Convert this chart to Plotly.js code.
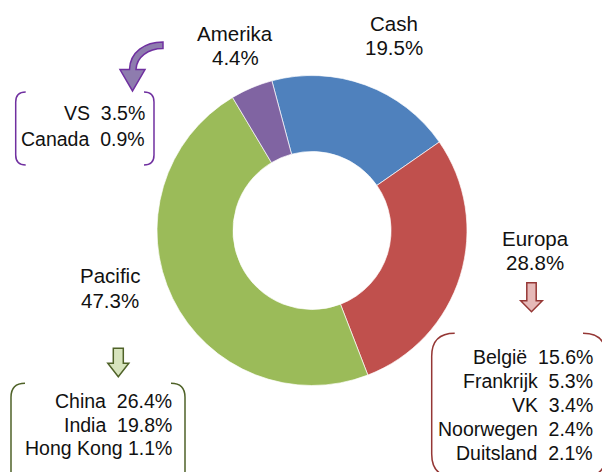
<!DOCTYPE html>
<html>
<head>
<meta charset="utf-8">
<script src="https://cdn.plot.ly/plotly-3.0.1.min.js"></script>
<style>html,body{margin:0;padding:0;background:#fff;}#chart{width:602px;height:472px;}</style>
</head>
<body>
<div id="chart"></div>
<script>
// ---- data ----
const regions = ['Cash', 'Europa', 'Pacific', 'Amerika'];
const shares = [19.5, 28.8, 47.3, 4.4];
const sliceColors = ['#4F81BD', '#C0504D', '#9BBB59', '#8064A2'];

const amerikaNames = ['VS', 'Canada'];
const amerikaValues = [3.5, 0.9];
const pacificNames = ['China', 'India', 'Hong Kong'];
const pacificValues = [26.4, 19.8, 1.1];
const europaNames = ['België', 'Frankrijk', 'VK', 'Noorwegen', 'Duitsland'];
const europaValues = [15.6, 5.3, 3.4, 2.4, 2.1];

// ---- layout helpers ----
const W = 602, H = 472;
const FONT = 'Liberation Sans, Arial, sans-serif';
const TXT = '#111111';
const MID = 0.3465; // (ascent - descent)/2 in em for Liberation Sans
const pct = v => v.toFixed(1) + '%';
const px2x = x => x / W;
const px2y = y => 1 - y / H;

function pathOf(cmds) {
  return cmds.map(c => c[0] + c.slice(1).map(p => px2x(p[0]).toFixed(5) + ',' + px2y(p[1]).toFixed(5)).join(' ')).join(' ');
}

const annotations = [];
function addLine(text, x, baseline, anchor, size) {
  annotations.push({
    xref: 'paper', yref: 'paper', x: px2x(x), y: px2y(baseline - MID * size),
    xanchor: anchor, yanchor: 'middle', showarrow: false, text: text,
    font: {family: FONT, size: size, color: TXT}, borderpad: 0
  });
}

// region labels (name + share)
const labelPos = {
  'Cash':    {x: 394, b: [30.7, 55]},
  'Europa':  {x: 535, b: [245.5, 270]},
  'Pacific': {x: 110, b: [283, 308]},
  'Amerika': {x: 235, b: [40.5, 65]}
};
regions.forEach((r, i) => {
  const p = labelPos[r];
  addLine(r, p.x, p.b[0], 'center', 20.5);
  addLine(pct(shares[i]), p.x, p.b[1], 'center', 20.5);
});

function sep(name) { return name.indexOf(' ') >= 0 ? ' ' : '\u00a0\u00a0'; }
function addList(names, values, right, firstBase, step, size) {
  names.forEach((n, i) => addLine(n + sep(n) + pct(values[i]), right, firstBase + i * step, 'right', size));
}
addList(amerikaNames, amerikaValues, 145.5, 120, 25.5, 19.5);
addList(pacificNames, pacificValues, 172.5, 408, 23.5, 19.5);
addList(europaNames, europaValues, 593.5, 363.3, 24.2, 19.5);

// ---- decorations ----
function bracketPair(l, r, top, bot, rad) {
  const left = [['M', [l + rad, top]], ['Q', [l, top], [l, top + rad]], ['L', [l, bot - rad]], ['Q', [l, bot], [l + rad, bot]]];
  const right = [['M', [r - rad, top]], ['Q', [r, top], [r, top + rad]], ['L', [r, bot - rad]], ['Q', [r, bot], [r - rad, bot]]];
  return [pathOf(left), pathOf(right)];
}
function blockArrow(cx, top, shaftHalf, headBase, headHalf, tip) {
  return pathOf([['M', [cx - shaftHalf, top]], ['L', [cx + shaftHalf, top]], ['L', [cx + shaftHalf, headBase]],
    ['L', [cx + headHalf, headBase]], ['L', [cx, tip]], ['L', [cx - headHalf, headBase]],
    ['L', [cx - shaftHalf, headBase]], ['Z']]);
}
const shapes = [];
function addPath(path, line, fill) {
  shapes.push({type: 'path', xref: 'paper', yref: 'paper', path: path, layer: 'above',
    line: {color: line, width: 1.5}, fillcolor: fill || 'rgba(0,0,0,0)'});
}
bracketPair(15.7, 154, 92, 165, 10).forEach(p => addPath(p, '#7030A0'));
bracketPair(11, 185, 383.3, 485, 14).forEach(p => addPath(p, '#4F6228'));
bracketPair(431.7, 606, 333.3, 477, 23).forEach(p => addPath(p, '#953735'));

addPath(blockArrow(118.3, 348.3, 5, 363.3, 10.5, 376.7), '#4F6228', '#D7E4BD');
addPath(blockArrow(531.5, 282.7, 4.7, 300.7, 10.8, 311.7), '#953735', '#E6B9B8');
addPath(pathOf([['M', [163, 42]], ['C', [145, 42], [130, 52], [129.5, 69.5]], ['L', [120, 69.5]], ['L', [132.5, 91]],
  ['L', [145, 69.5]], ['L', [136, 69.5]], ['C', [136.5, 57], [148, 48.5], [163, 48.5]], ['Z']]), '#7030A0', '#8E7CAE');

// ---- pie ----
const cx = 312, cy = 230.5, R = 155;
const trace = {
  type: 'pie', labels: regions, values: shares, sort: false,
  direction: 'clockwise', rotation: -15, hole: 0.51,
  marker: {colors: sliceColors, line: {color: 'rgba(255,255,255,0.85)', width: 0.8}},
  textinfo: 'none', hoverinfo: 'none', showlegend: false,
  domain: {x: [px2x(cx - R), px2x(cx + R)], y: [px2y(cy + R), px2y(cy - R)]}
};

Plotly.newPlot('chart', [trace], {
  width: W, height: H, margin: {l: 0, r: 0, t: 0, b: 0},
  paper_bgcolor: '#ffffff', plot_bgcolor: '#ffffff', showlegend: false,
  annotations: annotations, shapes: shapes
}, {displayModeBar: false, staticPlot: true});
</script>
</body>
</html>
